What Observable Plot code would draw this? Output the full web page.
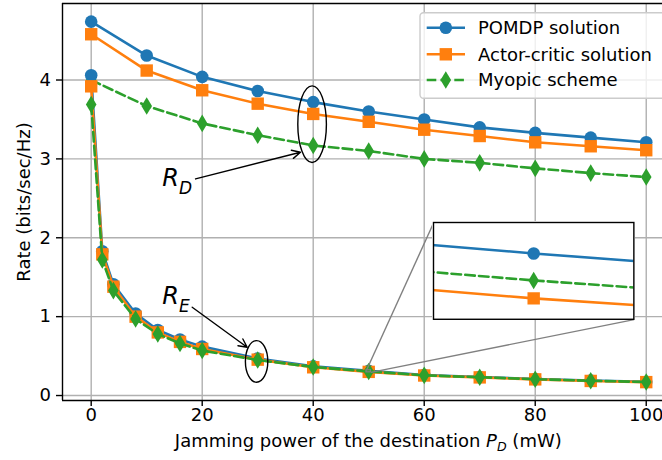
<!DOCTYPE html>
<html><head><meta charset="utf-8">
<script src="https://cdn.jsdelivr.net/npm/d3@7"></script>
<script src="https://cdn.jsdelivr.net/npm/@observablehq/plot@0.6"></script>
<style>
body{margin:0;background:white;}
#wrap{position:relative;width:662px;height:460px;overflow:hidden;}
</style>
</head><body><div id="wrap"></div>
<script>
// ---------- data ----------
const seriesNames = ["POMDP solution", "Actor-critic solution", "Myopic scheme"];
const seriesColors = ["#1f77b4", "#ff7f0e", "#2ca02c"];

// R_D curves (rate at destination)
const xD = [0, 10, 20, 30, 40, 50, 60, 70, 80, 90, 100];
const pomdpD = [4.74, 4.31, 4.04, 3.86, 3.72, 3.60, 3.50, 3.40, 3.33, 3.27, 3.21];
const actorD = [4.58, 4.12, 3.87, 3.70, 3.57, 3.47, 3.37, 3.29, 3.21, 3.16, 3.11];
const myopicD = [4.00, 3.67, 3.45, 3.30, 3.17, 3.10, 3.00, 2.95, 2.88, 2.82, 2.77];

// R_E curves (rate at eavesdropper)
const xE = [0, 2, 4, 8, 12, 16, 20, 30, 40, 50, 60, 70, 80, 90, 100];
const pomdpE = [4.06, 1.83, 1.41, 1.04, 0.83, 0.71, 0.62, 0.47, 0.370, 0.3125, 0.260, 0.235, 0.210, 0.190, 0.175];
const actorE = [3.92, 1.79, 1.38, 1.00, 0.80, 0.68, 0.59, 0.455, 0.358, 0.300, 0.254, 0.230, 0.205, 0.185, 0.170];
const myopicE = [3.69, 1.72, 1.33, 0.97, 0.78, 0.66, 0.57, 0.45, 0.362, 0.305, 0.256, 0.232, 0.207, 0.187, 0.172];

const xTicks = [0, 20, 40, 60, 80, 100];
const yTicks = [0, 1, 2, 3, 4];
const xLabel = "Jamming power of the destination P_D (mW)";
const yLabel = "Rate (bits/sec/Hz)";

const xDomain = [-5.17, 102.93];
const yDomain = [-0.063, 4.97];
const insetXDomain = [49.6, 50.4];
const insetYDomain = [0.2942, 0.3211];
const insetBox = {x1: 61.7, x2: 97.8, y1: 0.963, y2: 2.19};

const ellipses = [
  {x: 39.8, y: 3.44, rx: 14.3, ry: 38.3},
  {x: 29.8, y: 0.433, rx: 11.2, ry: 20.8}
];
const noteLabels = [
  {x: 12.8, y: 2.76, main: "R", sub: "D"},
  {x: 12.8, y: 1.26, main: "R", sub: "E"}
];
const arrows = [
  {x1: 18.8, y1: 2.746, x2: 37.7, y2: 3.084},
  {x1: 18.2, y1: 1.119, x2: 28.1, y2: 0.612}
];

// ---------- helpers ----------
const circleSym = {draw(c) { c.moveTo(6.3, 0); c.arc(0, 0, 6.3, 0, 2 * Math.PI); c.closePath(); }};
const squareSym = {draw(c) { c.rect(-6.2, -6.2, 12.4, 12.4); }};
const diamondSym = {draw(c) { c.moveTo(0, -8.8); c.lineTo(5.3, 0); c.lineTo(0, 8.8); c.lineTo(-5.3, 0); c.closePath(); }};
const symbols = [circleSym, squareSym, diamondSym];
function ellipseSym(rx, ry) {
  const k = 0.5523;
  return {draw(c) {
    c.moveTo(rx, 0);
    c.bezierCurveTo(rx, k * ry, k * rx, ry, 0, ry);
    c.bezierCurveTo(-k * rx, ry, -rx, k * ry, -rx, 0);
    c.bezierCurveTo(-rx, -k * ry, -k * rx, -ry, 0, -ry);
    c.bezierCurveTo(k * rx, -ry, rx, -k * ry, rx, 0);
    c.closePath();
  }};
}
const valsD = [pomdpD, actorD, myopicD];
const valsE = [pomdpE, actorE, myopicE];
const rowsD = valsD.map(v => xD.map((x, j) => ({x, y: v[j]})));
const rowsE = valsE.map(v => xE.map((x, j) => ({x, y: v[j]})));
const dash = i => i === 2 ? "9.6,4.2" : null;

function seriesMarks(rows, i, clip) {
  return [
    Plot.line(rows, {x: "x", y: "y", stroke: seriesColors[i], strokeWidth: 2.6, strokeDasharray: dash(i), clip}),
    Plot.dot(rows, {x: "x", y: "y", fill: seriesColors[i], symbol: symbols[i], r: 6, clip})
  ];
}

// ---------- main plot ----------
const main = Plot.plot({
  width: 662, height: 460,
  marginLeft: 62, marginRight: 0, marginTop: 3, marginBottom: 60,
  style: {fontFamily: "DejaVu Sans", fontSize: "18px", color: "black", background: "white"},
  x: {domain: xDomain},
  y: {domain: yDomain},
  marks: [
    Plot.gridX(xTicks, {stroke: "#b0b0b0", strokeOpacity: 1, strokeWidth: 1.4}),
    Plot.gridY(yTicks, {stroke: "#b0b0b0", strokeOpacity: 1, strokeWidth: 1.4}),
    Plot.axisX(xTicks, {tickSize: 6, tickPadding: 1.5, label: null, strokeWidth: 1.4, tickFormat: d => String(d)}),
    Plot.axisY(yTicks, {tickSize: 6, tickPadding: 5.5, label: null, strokeWidth: 1.4, tickFormat: d => String(d)}),
    Plot.ruleX([xDomain[0]], {stroke: "black", strokeWidth: 1.4}),
    Plot.ruleY([yDomain[0], yDomain[1]], {stroke: "black", strokeWidth: 1.4}),
    ...[0, 1, 2].flatMap(i => seriesMarks(rowsD[i], i, false)),
    ...[0, 1, 2].flatMap(i => seriesMarks(rowsE[i], i, false)),
    Plot.rect([insetXDomain], {x1: d => d[0], x2: d => d[1], y1: insetYDomain[0], y2: insetYDomain[1], stroke: "#808080", fill: "none", strokeWidth: 1.2}),
    Plot.link([
      {x1: insetXDomain[0], y1: insetYDomain[1], x2: insetBox.x1, y2: insetBox.y2},
      {x1: insetXDomain[1], y1: insetYDomain[0], x2: insetBox.x2, y2: insetBox.y1}
    ], {x1: "x1", y1: "y1", x2: "x2", y2: "y2", stroke: "#808080", strokeWidth: 1.4}),
    ...ellipses.map(e => Plot.dot([e], {x: "x", y: "y", symbol: ellipseSym(e.rx, e.ry), r: 1, stroke: "black", fill: "none", strokeWidth: 1.4})),
    Plot.arrow(arrows, {x1: "x1", y1: "y1", x2: "x2", y2: "y2", stroke: "black", strokeWidth: 1.4, headLength: 10, headAngle: 53}),
    Plot.text(noteLabels, {x: "x", y: "y", text: d => d.main + "_" + d.sub, textAnchor: "start", fontSize: 24, className: "note"}),
    Plot.text([xLabel], {frameAnchor: "bottom", dx: 5.8, dy: 46.5, className: "xlab"}),
    Plot.text([yLabel], {frameAnchor: "left", rotate: -90, dx: -38.3, textAnchor: "middle"})
  ]
});

const wrap = document.getElementById("wrap");
wrap.appendChild(main);
const svg = d3.select(main);

// rich text (italic + subscript)
function richText(el, parts, subShift) {
  const t = d3.select(el);
  t.text(null);
  let shifted = false;
  for (const p of parts) {
    const ts = t.append("tspan").text(p.t);
    if (p.italic) ts.attr("font-style", "italic");
    if (p.sub) { ts.attr("font-size", p.size).attr("dy", subShift); shifted = true; }
    else if (shifted) { ts.attr("dy", -subShift); shifted = false; }
  }
}
svg.selectAll(".xlab text").each(function() {
  richText(this, [
    {t: "Jamming power of the destination "},
    {t: "P", italic: true},
    {t: "D", italic: true, sub: true, size: 12.6},
    {t: " (mW)"}
  ], 4);
});
svg.selectAll(".note text").each(function(d, i) {
  const lab = noteLabels[i];
  richText(this, [
    {t: lab.main, italic: true},
    {t: lab.sub, italic: true, sub: true, size: 17}
  ], 8.3);
});

// legend
const lg = svg.append("g").attr("font-family", "DejaVu Sans").attr("font-size", 18).attr("text-anchor", "start");
lg.append("rect").attr("x", 420).attr("y", 12.7).attr("width", 262).attr("height", 85.6).attr("rx", 3.5)
  .attr("fill", "white").attr("fill-opacity", 0.8).attr("stroke", "#cccccc").attr("stroke-width", 1.4);
const rowY = [27.7, 54.3, 80];
seriesNames.forEach((name, i) => {
  lg.append("line").attr("x1", 426.7).attr("x2", 465).attr("y1", rowY[i]).attr("y2", rowY[i])
    .attr("stroke", seriesColors[i]).attr("stroke-width", 2.6).attr("stroke-dasharray", dash(i));
  lg.append("path").attr("d", d3.symbol(symbols[i])()).attr("transform", `translate(445.8,${rowY[i]})`).attr("fill", seriesColors[i]);
  lg.append("text").attr("x", 478).attr("y", rowY[i]).attr("dy", "0.35em").attr("text-anchor", "start").attr("fill", "black").text(name);
});

// ---------- inset ----------
const sx = main.scale("x"), sy = main.scale("y");
const ix1 = sx.apply(insetBox.x1), ix2 = sx.apply(insetBox.x2);
const iy1 = sy.apply(insetBox.y2), iy2 = sy.apply(insetBox.y1);
const iw = ix2 - ix1, ih = iy2 - iy1;
const inset = Plot.plot({
  width: iw + 2, height: ih + 2,
  margin: 1,
  style: {background: "white", overflow: "hidden"},
  x: {domain: insetXDomain, axis: null},
  y: {domain: insetYDomain, axis: null},
  marks: [
    Plot.frame({fill: "white"}),
    ...[0, 1, 2].flatMap(i => seriesMarks(rowsE[i], i, true)),
    Plot.frame({stroke: "black", strokeWidth: 1.4})
  ]
});
inset.style.position = "absolute";
inset.style.left = (ix1 - 1) + "px";
inset.style.top = (iy1 - 1) + "px";
inset.style.width = (iw + 2) + "px";
inset.style.height = (ih + 2) + "px";
inset.style.maxWidth = "none";
wrap.appendChild(inset);
</script>
</body></html>
